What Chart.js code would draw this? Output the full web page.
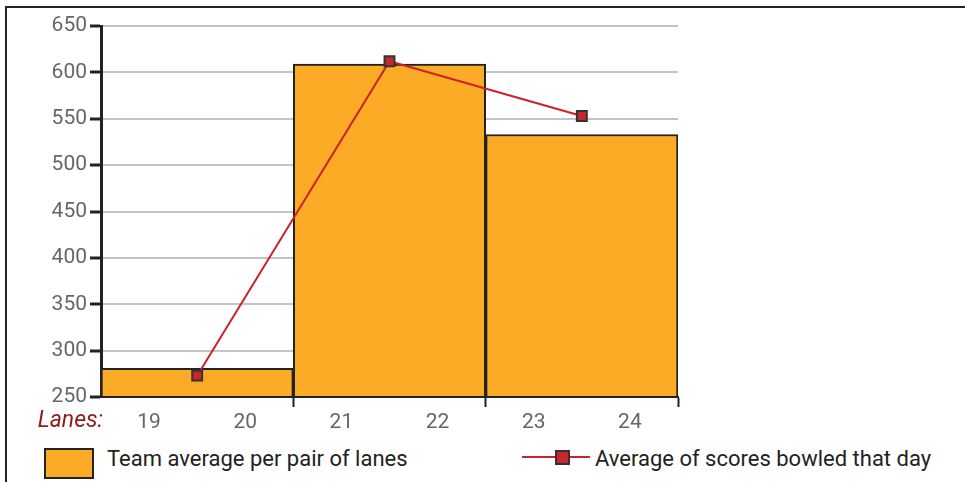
<!DOCTYPE html>
<html>
<head>
<meta charset="utf-8">
<script src="https://cdn.jsdelivr.net/npm/chart.js@4"></script>
<style>
  html, body { margin: 0; padding: 0; background: #fff; }
  body { width: 965px; height: 482px; position: relative; overflow: hidden; font-family: Roboto, "Noto Sans", sans-serif; }
  #frame { position: absolute; left: 5px; top: 6px; right: 0; bottom: -5px; border-top: 2px solid #222; border-left: 2px solid #222; }
  #wrap { position: absolute; left: 0; top: 0; width: 965px; height: 440px; }
  .legend { position: absolute; top: 446px; font-size: 22px; color: #222; white-space: nowrap; }
  .box { position: absolute; left: 44px; top: 2px; width: 46px; height: 27px; background: #fbab26; border: 2px solid #222; }
  .lline { position: absolute; left: 522px; top: 10px; width: 68px; height: 2px; background: #cc2229; }
  .lmark { position: absolute; left: 555px; top: 4px; width: 11px; height: 11px; background: #c8282c; border: 2px solid #333; }
</style>
</head>
<body>
<div id="frame"></div>
<div id="wrap"><canvas id="chart"></canvas></div>
<div class="legend"><div class="box"></div><span style="position:absolute;left:107px;top:0px">Team average per pair of lanes</span></div>
<div class="legend"><div class="lline"></div><div class="lmark"></div><span style="position:absolute;left:595px;top:0px">Average of scores bowled that day</span></div>
<script>
document.addEventListener('DOMContentLoaded', function() {
    // lane pairs and the per-lane tick labels
    const lanePairs = ['19-20', '21-22', '23-24'];
    const laneLabels = ['19', '20', '21', '22', '23', '24'];
    const teamAverage = [281, 609, 533];
    const dayAverage = [273, 612, 553];
    const yTicks = [250, 300, 350, 400, 450, 500, 550, 600, 650];

    const lanesTitle = {
        id: 'lanesTitle',
        afterDraw(chart) {
            const ctx = chart.ctx;
            ctx.save();
            ctx.font = 'italic 23px Roboto';
            ctx.fillStyle = '#8b1c1c';
            ctx.textAlign = 'right';
            ctx.textBaseline = 'middle';
            ctx.fillText('Lanes:', chart.chartArea.left + 2, 421);
            ctx.restore();
        }
    };

    new Chart(document.getElementById('chart'), {
        data: {
            labels: lanePairs,
            datasets: [{
                type: 'line',
                label: 'Average of scores bowled that day',
                data: dayAverage,
                borderColor: '#cc2229',
                borderWidth: 2,
                pointStyle: 'rect',
                pointRadius: 7,
                pointBackgroundColor: '#c8282c',
                pointBorderColor: '#333',
                pointBorderWidth: 2,
                tension: 0,
                order: 0
            }, {
                type: 'bar',
                label: 'Team average per pair of lanes',
                data: teamAverage,
                backgroundColor: '#fbab26',
                borderColor: '#222',
                borderWidth: 2,
                barPercentage: 1,
                categoryPercentage: 1,
                base: 250,
                order: 1
            }]
        },
        options: {
            responsive: true,
            maintainAspectRatio: false,
            animation: false,
            layout: { padding: { top: 26, right: 287, left: 0, bottom: 0 } },
            plugins: { legend: { display: false }, tooltip: { enabled: false } },
            scales: {
                y: {
                    min: 250,
                    max: 650,
                    afterBuildTicks: (s) => { s.ticks = yTicks.map(v => ({ value: v })); },
                    afterFit: (s) => { s.width = 101; },
                    ticks: { color: '#666', font: { family: 'Roboto', size: 21 }, padding: 3 },
                    grid: { color: '#c4c4c4', lineWidth: 2, tickColor: '#222', tickLength: 11, tickWidth: 3 },
                    border: { color: '#222', width: 3 }
                },
                x: {
                    offset: true,
                    ticks: { display: false },
                    afterFit: (s) => { s.height = 10; },
                    grid: {
                        offset: true,
                        drawOnChartArea: false,
                        tickLength: 10,
                        tickWidth: 2,
                        tickColor: (c) => c.index === 0 ? 'rgba(0,0,0,0)' : '#222'
                    },
                    border: { color: '#222', width: 2 }
                },
                x2: {
                    type: 'category',
                    labels: laneLabels,
                    position: 'bottom',
                    offset: true,
                    afterFit: (s) => { s.height = 33; },
                    grid: { display: false },
                    border: { display: false },
                    ticks: { color: '#666', font: { family: 'Roboto', size: 21 }, padding: -5 }
                }
            }
        },
        plugins: [lanesTitle]
    });
});
</script>
</body>
</html>
